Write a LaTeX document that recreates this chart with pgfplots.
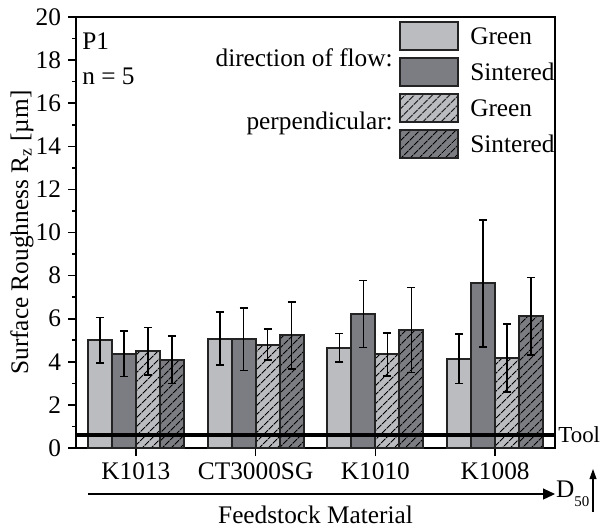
\documentclass[border=0pt]{standalone}
\usepackage{pgfplots}
\pgfplotsset{compat=1.18}
\usepackage{fontspec}
\setmainfont{Liberation Serif}
\usetikzlibrary{patterns.meta,arrows.meta}

\definecolor{lgray}{RGB}{187,188,192}
\definecolor{dgray}{RGB}{124,125,130}
\definecolor{edge}{RGB}{35,35,35}

\begin{document}
\begin{tikzpicture}[font=\fontsize{12.7}{15}\selectfont]
\begin{axis}[
    scale only axis,
    width=239.5bp, height=215.5bp,
    xmin=0.5, xmax=4.5,
    ymin=0, ymax=20,
    ytick distance=2,
    minor y tick num=1,
    xtick={1,2,3,4},
    xticklabels={K1013, CT3000SG, K1010, K1008},
    tick pos=left,
    tick align=outside,
    major tick length=4bp,
    minor tick length=2bp,
    every tick/.style={black, line width=0.8bp},
    axis line style={line width=0.9bp},
    /pgf/number format/assume math mode=true,
    ticklabel style={font=\fontsize{12.7}{15}\selectfont},
    xlabel={Feedstock Material},
    ylabel={Surface Roughness R\textsubscript{z} [µm]},
    xlabel style={at={(axis description cs:0.5,0)}, anchor=center, yshift=-33.5bp},
    ylabel style={at={(axis description cs:-0.113,0.5)}, anchor=center},
    ybar, bar width=0.2,
    clip=false,
    error bars/y dir=both,
    error bars/y explicit,
    error bars/error bar style={black, line width=0.8bp},
    error bars/error mark options={rotate=90, mark size=2bp, line width=0.8bp, black},
    legend image code/.code={\draw[#1] (0bp,-2.8bp) rectangle (29bp,11.2bp);},
    legend style={at={(1,1)}, anchor=north east, draw=none, fill=none,
        inner xsep=0bp, inner ysep=2bp, row sep=3bp,
        nodes={inner sep=0pt, anchor=base west},
        /tikz/every odd column/.append style={column sep=5.5bp},
        font=\fontsize{12.7}{15}\selectfont},
    legend cell align=left,
]

\addplot[fill=lgray, draw=edge, line width=1bp, bar shift=-0.3] coordinates {
    (1,5.00) +- (0,1.05)
    (2,5.08) +- (0,1.22)
    (3,4.65) +- (0,0.67)
    (4,4.15) +- (0,1.15)
};
\addlegendentry{Green}

\addplot[fill=dgray, draw=edge, line width=1bp, bar shift=-0.1] coordinates {
    (1,4.37) +- (0,1.05)
    (2,5.05) +- (0,1.45)
    (3,6.22) +- (0,1.55)
    (4,7.64) +- (0,2.95)
};
\addlegendentry{Sintered}

\addplot[fill=lgray, draw=edge, line width=1bp, bar shift=0.1,
    postaction={pattern={Lines[angle=45,distance=3.6bp,line width=0.6bp]}, pattern color=black}] coordinates {
    (1,4.50) +- (0,1.10)
    (2,4.80) +- (0,0.72)
    (3,4.35) +- (0,1.00)
    (4,4.18) +- (0,1.57)
};
\addlegendentry{Green}

\addplot[fill=dgray, draw=edge, line width=1bp, bar shift=0.3,
    postaction={pattern={Lines[angle=45,distance=3.6bp,line width=0.6bp]}, pattern color=black}] coordinates {
    (1,4.10) +- (0,1.10)
    (2,5.23) +- (0,1.55)
    (3,5.47) +- (0,1.97)
    (4,6.12) +- (0,1.80)
};
\addlegendentry{Sintered}

% tool reference line
\addplot[sharp plot, black, line width=2bp, forget plot, error bars/y dir=none] coordinates {(0.5,0.6) (4.5,0.6)};
\node[anchor=west, inner sep=1.5bp, font=\fontsize{11.5}{13}\selectfont] at (axis cs:4.5,0.6) {Tool};

\node[anchor=west, inner sep=0pt] at (rel axis cs:0.0125,0.944) {P1};
\node[anchor=west, inner sep=0pt] at (rel axis cs:0.0125,0.863) {n = 5};
\node[anchor=east, inner sep=0pt] at (rel axis cs:0.662,0.905) {direction of flow:};
\node[anchor=east, inner sep=0pt] at (rel axis cs:0.662,0.752) {perpendicular:};

\coordinate (bl) at (rel axis cs:0,0);
\coordinate (br) at (rel axis cs:1,0);
\coordinate (tr) at (rel axis cs:1,1);
\end{axis}

% D50 arrows
\draw[line width=0.6bp, -{Triangle[length=6bp,width=5.5bp]}]
    ([shift={(6bp,-23bp)}]bl) -- ([yshift=-23bp]br)
    node[anchor=west, inner sep=0.3bp] {D\raisebox{-0.8ex}{\fontsize{7.5}{9}\selectfont 50}};
\draw[black, line width=0.9bp] ([shift={(19bp,-32bp)}]br) -- ([shift={(19bp,-15bp)}]br);
\fill[black] ([shift={(17.2bp,-15.5bp)}]br) -- ([shift={(20.8bp,-15.5bp)}]br) -- ([shift={(19bp,-10.5bp)}]br) -- cycle;

\pgfresetboundingbox
\path ([shift={(-38bp,-40.5bp)}]bl) rectangle ([shift={(23.5bp,8.5bp)}]tr);
\end{tikzpicture}
\end{document}
